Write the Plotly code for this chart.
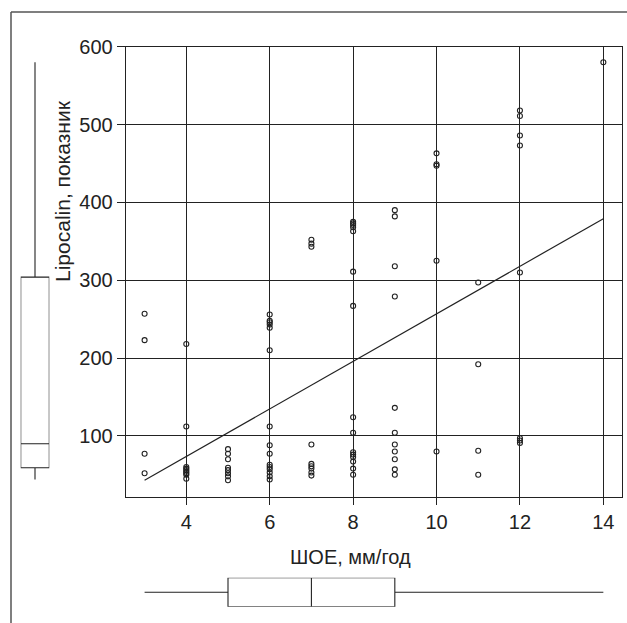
import plotly.graph_objects as go

# ---- data ----
shoe = ([3]*4 + [4]*9 + [5]*8 + [6]*15 + [7]*9 + [8]*15 + [9]*11 +
        [10]*5 + [11]*4 + [12]*8 + [14]*1)
lipocalin = [
    257, 223, 77, 52,
    218, 112, 60, 58, 56, 54, 52, 50, 45,
    83, 77, 70, 59, 56, 52, 48, 43,
    256, 248, 246, 243, 239, 210, 112, 88, 77, 63, 60, 57, 53, 48, 44,
    352, 347, 343, 89, 64, 61, 58, 53, 49,
    375, 373, 371, 368, 363, 311, 267, 124, 104, 79, 76, 73, 67, 58, 50,
    390, 382, 318, 279, 136, 104, 89, 80, 70, 57, 50,
    463, 449, 447, 325, 80,
    297, 192, 81, 50,
    518, 511, 486, 473, 310, 97, 94, 91,
    580,
]
trend_x = [3, 14]
trend_y = [43, 379]

# marginal box statistics: [lower whisker, q1, median, q3, upper whisker]
lip_stats = [44, 59, 90, 304, 580]
shoe_stats = [3, 5, 7, 9, 14]

x_ticks = [4, 6, 8, 10, 12, 14]
y_ticks = [100, 200, 300, 400, 500, 600]

W, H = 627, 623
FONT = "Liberation Sans, Arial, Helvetica, sans-serif"
INK = "#222222"

fig = go.Figure()

fig.add_trace(go.Scatter(
    x=shoe, y=lipocalin, mode="markers",
    marker=dict(symbol="circle-open", size=5, color=INK, line=dict(width=1.1, color=INK)),
    xaxis="x", yaxis="y", showlegend=False, hoverinfo="skip"))

fig.add_trace(go.Scatter(
    x=trend_x, y=trend_y, mode="lines",
    line=dict(color=INK, width=1.2),
    xaxis="x", yaxis="y", showlegend=False, hoverinfo="skip"))

# vertical marginal box for Lipocalin (left)
fig.add_trace(go.Box(
    x=[0], lowerfence=[lip_stats[0]], q1=[lip_stats[1]], median=[lip_stats[2]],
    q3=[lip_stats[3]], upperfence=[lip_stats[4]],
    orientation="v", width=1, whiskerwidth=0, boxpoints=False,
    fillcolor="white", line=dict(color=INK, width=1.1),
    xaxis="x2", yaxis="y3", showlegend=False, hoverinfo="skip"))

# horizontal marginal box for ШОЕ (bottom)
fig.add_trace(go.Box(
    y=[0], lowerfence=[shoe_stats[0]], q1=[shoe_stats[1]], median=[shoe_stats[2]],
    q3=[shoe_stats[3]], upperfence=[shoe_stats[4]],
    orientation="h", width=1, whiskerwidth=0, boxpoints=False,
    fillcolor="white", line=dict(color=INK, width=1.1),
    xaxis="x3", yaxis="y2", showlegend=False, hoverinfo="skip"))

px = lambda p: p / W
py = lambda p: 1 - p / H

fig.update_layout(
    width=W, height=H,
    margin=dict(l=0, r=0, t=0, b=0, autoexpand=False),
    paper_bgcolor="white", plot_bgcolor="white",
    font=dict(family=FONT, size=20, color=INK),
    xaxis=dict(
        domain=[px(125.7), px(621.7)], range=[2.547, 14.44],
        tickvals=x_ticks, ticktext=[str(v) for v in x_ticks],
        ticks="outside", ticklen=7, tickwidth=1, tickcolor=INK,
        showline=True, linecolor=INK, linewidth=1, mirror=True,
        showgrid=True, gridcolor=INK, gridwidth=1, zeroline=False,
        anchor="y", automargin=False, tickfont=dict(size=20, family=FONT, color=INK),
    ),
    yaxis=dict(
        domain=[py(497), py(46.7)], range=[21.5, 600],
        tickvals=y_ticks, ticktext=[str(v) for v in y_ticks],
        ticks="outside", ticklen=8, tickwidth=1, tickcolor=INK,
        showline=True, linecolor=INK, linewidth=1, mirror=True,
        showgrid=True, gridcolor=INK, gridwidth=1, zeroline=False,
        anchor="x", automargin=False, tickfont=dict(size=20, family=FONT, color=INK),
    ),
    xaxis2=dict(domain=[px(20.7), px(49.3)], range=[-0.5, 0.5], visible=False,
                anchor="y3", fixedrange=True),
    yaxis3=dict(domain=[py(497), py(46.7)], range=[21.5, 600], visible=False,
                anchor="x2", fixedrange=True),
    xaxis3=dict(domain=[px(125.7), px(621.7)], range=[2.547, 14.44], visible=False,
                anchor="y2", fixedrange=True),
    yaxis2=dict(domain=[py(606.7), py(577.7)], range=[-0.5, 0.5], visible=False,
                anchor="x3", fixedrange=True),
    shapes=[
        dict(type="line", xref="paper", yref="paper", x0=px(11), x1=px(11),
             y0=py(12), y1=0, line=dict(color="#555555", width=1.5)),
        dict(type="line", xref="paper", yref="paper", x0=px(11), x1=1,
             y0=py(12), y1=py(12), line=dict(color="#555555", width=1.5)),
    ],
    annotations=[
        dict(text="ШОЕ, мм/год", xref="paper", yref="paper",
             x=px(350), y=py(556.7), xanchor="center", yanchor="middle",
             showarrow=False, font=dict(size=20, family=FONT, color=INK)),
        dict(text="Lipocalin, показник", xref="paper", yref="paper",
             x=px(62), y=py(191), xanchor="center", yanchor="middle",
             textangle=-90, showarrow=False,
             font=dict(size=21, family=FONT, color=INK)),
    ],
)

fig.write_html("out.html")
